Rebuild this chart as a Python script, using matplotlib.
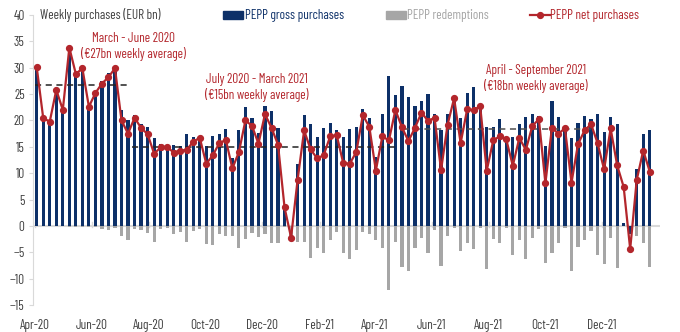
import pandas as pd
import matplotlib
matplotlib.use('Agg')
import matplotlib.pyplot as plt
import matplotlib.dates as mdates
from matplotlib.patches import Rectangle
from matplotlib.lines import Line2D

plt.rcParams['font.family'] = ['Barlow Condensed', 'DejaVu Sans']

# weekly PEPP data (EUR bn)
weeks = pd.date_range('2020-04-03', periods=95, freq='7D')

gross = [30.1, 20.4, 19.8, 25.8, 22.0, 34.1, 29.1, 30.1, 22.9, 25.5,
         27.5, 29.0, 30.2, 22.0, 20.1, 21.0, 19.3, 18.8, 16.6, 15.5,
         15.4, 15.4, 15.2, 17.4, 16.9, 17.1, 15.2, 17.0, 17.4, 18.3,
         12.9, 18.2, 22.5, 20.4, 17.7, 22.7, 21.8, 18.6, 3.8, 0.0,
         11.7, 21.1, 19.3, 16.8, 18.5, 19.6, 18.2, 16.9, 18.3, 18.7,
         22.1, 20.4, 13.1, 21.2, 28.4, 24.9, 26.5, 24.5, 22.8, 23.7,
         25.0, 21.3, 18.2, 21.2, 24.6, 20.4, 25.3, 26.4, 23.1, 18.7,
         18.7, 20.2, 16.8, 16.9, 19.4, 20.7, 21.2, 20.8, 15.2, 23.7,
         20.7, 18.9, 16.7, 19.5, 20.8, 20.2, 21.2, 17.9, 20.7, 19.4,
         0.5, -1.5, 10.7, 17.5, 18.1]

redemptions = [0.0, -0.1, -0.1, -0.1, -0.1, -0.3, -0.3, -0.2, -0.3, -0.3,
               -0.5, -0.8, -0.4, -2.0, -2.7, -0.5, -0.7, -1.4, -3.0, -0.6,
               -0.4, -1.5, -1.1, -3.0, -0.9, -0.5, -3.4, -3.6, -1.6, -2.0,
               -2.0, -4.2, -2.5, -1.4, -2.1, -1.5, -3.2, -3.2, -0.3, -2.2,
               -3.0, -3.0, -6.1, -4.1, -5.1, -2.7, -1.1, -5.1, -6.3, -4.6,
               -1.1, -1.5, -2.6, -4.2, -12.1, -3.0, -7.8, -8.5, -4.2, -2.2,
               -5.1, -0.8, -7.6, -2.0, -0.4, -4.7, -3.2, -4.4, -0.4, -8.2,
               -2.5, -3.2, -0.4, -5.5, -2.7, -6.3, -2.2, -0.6, -7.1, -5.1,
               -3.2, -0.4, -8.5, -4.0, -2.7, -0.9, -5.5, -7.2, -2.2, -7.9,
               0.0, 0.0, -2.0, -3.2, -7.8]

net = [30.1, 20.4, 19.8, 25.8, 22.0, 33.8, 28.8, 29.9, 22.6, 25.2,
       27.0, 28.2, 29.9, 20.0, 17.5, 20.5, 18.6, 17.4, 13.7, 14.9,
       15.0, 13.9, 14.3, 14.4, 16.0, 16.7, 11.8, 13.4, 15.7, 16.3,
       10.9, 14.0, 20.0, 19.0, 15.6, 21.2, 18.6, 15.4, 3.5, -2.2,
       8.7, 18.1, 14.5, 12.8, 13.4, 17.0, 17.2, 11.9, 11.8, 14.0,
       21.0, 18.8, 10.5, 17.0, 16.2, 22.0, 18.7, 16.1, 18.6, 21.5,
       19.9, 20.5, 10.6, 19.2, 24.2, 15.7, 22.1, 22.0, 22.7, 10.5,
       16.2, 17.0, 16.4, 11.4, 16.7, 14.4, 19.0, 20.2, 8.1, 18.6,
       17.5, 18.5, 8.2, 15.5, 18.1, 19.3, 15.7, 10.7, 18.5, 11.5,
       7.4, -4.4, 8.7, 14.3, 10.3]

# period averages (dashed lines)
avg_values = [26.8, 15.0, 18.3]
avg_start = ['2020-04-01', '2020-07-14', '2021-05-01']
avg_end = ['2020-07-12', '2021-04-24', '2021-11-21']
avg_texts = ['March - June 2020\n(\u20ac27bn weekly average)',
             'July 2020 - March 2021\n(\u20ac15bn weekly average)',
             'April - September 2021\n(\u20ac18bn weekly average)']

NAVY = '#0d3068'
GREY = '#a6a6a6'
RED = '#b3262c'
TXT = '#404040'
AXC = '#d9d9d9'
FS = 9.5

W, H = 680, 332
fig = plt.figure(figsize=(W / 100, H / 100), dpi=100)
ax = fig.add_axes([33 / W, 1 - 305 / H, (660 - 33) / W, (305 - 15) / H])

ax.axhline(0, color=AXC, lw=1.5, zorder=1)
ax.bar(weeks, gross, width=3.4, color=NAVY, zorder=2)
ax.bar(weeks, redemptions, width=3.4, color=GREY, zorder=2)
ax.plot(weeks, net, color=RED, lw=1.6, marker='o', ms=4.2, zorder=4)

for v, s, e in zip(avg_values, avg_start, avg_end):
    ax.hlines(v, pd.Timestamp(s), pd.Timestamp(e),
              colors='#222222' if v != 18.3 else '#505050',
              linestyles=(0, (4, 3)), lw=1.1, zorder=3)

# period labels
text_pos = [('2020-07-16', 34.0), ('2020-11-25', 26.3), ('2021-09-21', 27.9)]
for t, (d, y) in zip(avg_texts, text_pos):
    ax.text(pd.Timestamp(d), y, t, color=RED, fontsize=FS, ha='center',
            va='center', linespacing=1.15, zorder=5)

ax.set_ylim(-15, 40)
ax.set_yticks(range(-15, 41, 5))
ax.set_xlim(pd.Timestamp('2020-03-30'), pd.Timestamp('2022-02-01'))
ticks = pd.date_range('2020-04-01', '2021-12-01', freq='2MS')
ax.set_xticks(ticks)
ax.xaxis.set_major_formatter(mdates.DateFormatter('%b-%y'))
ax.tick_params(axis='x', length=0, pad=10, labelsize=FS, labelcolor=TXT)
ax.tick_params(axis='y', length=3, color=AXC, labelsize=FS, labelcolor=TXT, pad=3)
for t in ticks:
    ax.plot([t, t], [-0.3, 0.8], color=AXC, lw=1, zorder=1)

for sp in ['top', 'right', 'bottom']:
    ax.spines[sp].set_visible(False)
ax.spines['left'].set_color(AXC)

# title and legend in pixel positions
def fx(px):
    return px / W

def fy(py):
    return 1 - py / H

fig.text(fx(40), fy(15), 'Weekly purchases (EUR bn)', color=TXT,
         fontsize=FS, va='center', ha='left')
fig.add_artist(Rectangle((fx(223), fy(19)), fx(20), 8 / H, color=NAVY,
                         transform=fig.transFigure))
fig.text(fx(245), fy(15), 'PEPP gross purchases', color=NAVY,
         fontsize=FS, va='center', ha='left')
fig.add_artist(Rectangle((fx(386), fy(19)), fx(20), 8 / H, color=GREY,
                         transform=fig.transFigure))
fig.text(fx(407), fy(15), 'PEPP redemptions', color=GREY,
         fontsize=FS, va='center', ha='left')
fig.add_artist(Line2D([fx(530), fx(550)], [fy(15), fy(15)], color=RED,
                      lw=1.6, transform=fig.transFigure))
fig.add_artist(Line2D([fx(540)], [fy(15)], color=RED, marker='o', ms=4.2,
                      transform=fig.transFigure))
fig.text(fx(550), fy(15), 'PEPP net purchases', color=RED,
         fontsize=FS, va='center', ha='left')

fig.savefig('out.png', dpi=100)
